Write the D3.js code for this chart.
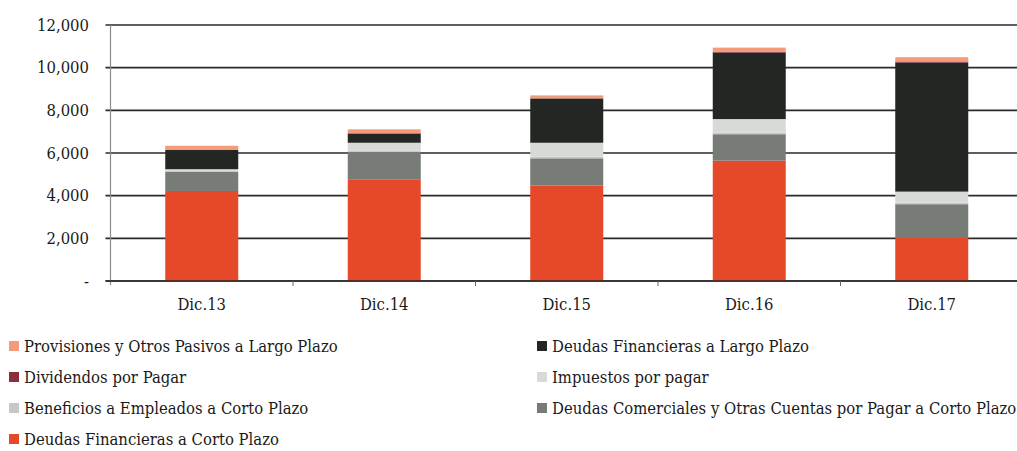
<!DOCTYPE html>
<html>
<head>
<meta charset="utf-8">
<script src="https://cdn.jsdelivr.net/npm/d3@7"></script>
<style>
  body { margin: 0; background: #fff; }
  svg text { font-family: "DejaVu Serif Condensed", "DejaVu Serif", serif; fill: #1a1a1a; }
</style>
</head>
<body>
<svg id="chart" width="1017" height="451"></svg>
<script>
// categories and series (stacked bottom -> top)
const categories = ["Dic.13", "Dic.14", "Dic.15", "Dic.16", "Dic.17"];
const deudasFinCP = [4220, 4770, 4470, 5640, 2020];
const deudasComerciales = [900, 1290, 1280, 1240, 1580];
const beneficios = [40, 60, 80, 80, 70];
const impuestos = [80, 360, 650, 630, 520];
const deudasFinLP = [900, 440, 2080, 3120, 6050];
const dividendos = [0, 0, 0, 40, 50];
const provisiones = [200, 190, 140, 190, 200];
const yTicks = [0, 2000, 4000, 6000, 8000, 10000, 12000];

const series = [
  { name: "Deudas Financieras a Corto Plazo", values: deudasFinCP, color: "#e6482a" },
  { name: "Deudas Comerciales y Otras Cuentas por Pagar a Corto Plazo", values: deudasComerciales, color: "#777c77" },
  { name: "Beneficios a Empleados a Corto Plazo", values: beneficios, color: "#c6c8c6" },
  { name: "Impuestos por pagar", values: impuestos, color: "#d8dad8" },
  { name: "Deudas Financieras a Largo Plazo", values: deudasFinLP, color: "#232623" },
  { name: "Dividendos por Pagar", values: dividendos, color: "#8a2f3e" },
  { name: "Provisiones y Otros Pasivos a Largo Plazo", values: provisiones, color: "#f29c7c" }
];

// legend order as printed (two columns, row by row)
const legendOrder = [
  "Provisiones y Otros Pasivos a Largo Plazo",
  "Deudas Financieras a Largo Plazo",
  "Dividendos por Pagar",
  "Impuestos por pagar",
  "Beneficios a Empleados a Corto Plazo",
  "Deudas Comerciales y Otras Cuentas por Pagar a Corto Plazo",
  "Deudas Financieras a Corto Plazo"
];

const svg = d3.select("#chart");
const plotLeft = 110.5, plotRight = 1023, plotTop = 25, plotBottom = 281;
const fontSize = 16.5;

const x = d3.scaleBand().domain(categories).range([plotLeft, plotRight]).paddingInner(0.6).paddingOuter(0.3);
const y = d3.scaleLinear().domain([0, 12000]).range([plotBottom, plotTop]);

// gridlines
svg.append("g")
  .selectAll("line")
  .data(yTicks)
  .join("line")
  .attr("x1", plotLeft - 5)
  .attr("x2", 1017)
  .attr("y1", d => y(d))
  .attr("y2", d => y(d))
  .attr("stroke", "#2a2a2a")
  .attr("stroke-width", 1.6);

// y axis labels
svg.append("g")
  .selectAll("text")
  .data(yTicks)
  .join("text")
  .attr("x", 89)
  .attr("y", d => y(d))
  .attr("dy", "0.35em")
  .attr("text-anchor", "end")
  .attr("font-size", fontSize)
  .text(d => d === 0 ? "-" : d3.format(",")(d));

// y axis line
svg.append("line")
  .attr("x1", plotLeft).attr("x2", plotLeft)
  .attr("y1", plotTop).attr("y2", plotBottom + 4)
  .attr("stroke", "#8a8a8a").attr("stroke-width", 1.2);

// stack
const table = categories.map((c, i) => {
  const row = { cat: c };
  series.forEach(s => row[s.name] = s.values[i]);
  return row;
});
const stacked = d3.stack().keys(series.map(s => s.name))(table);

svg.append("g")
  .selectAll("g")
  .data(stacked)
  .join("g")
  .attr("fill", (d, i) => series[i].color)
  .selectAll("rect")
  .data(d => d)
  .join("rect")
  .attr("x", d => x(d.data.cat))
  .attr("width", x.bandwidth())
  .attr("y", d => y(d[1]))
  .attr("height", d => y(d[0]) - y(d[1]));

// x axis line and ticks between categories
svg.append("line")
  .attr("x1", plotLeft - 5).attr("x2", 1017)
  .attr("y1", plotBottom).attr("y2", plotBottom)
  .attr("stroke", "#2a2a2a").attr("stroke-width", 1.6);

const step = x.step();
svg.append("g")
  .selectAll("line")
  .data(categories.slice(1))
  .join("line")
  .attr("x1", d => x(d) - step * 0.3)
  .attr("x2", d => x(d) - step * 0.3)
  .attr("y1", plotBottom)
  .attr("y2", plotBottom + 5)
  .attr("stroke", "#666");

svg.append("g")
  .selectAll("text")
  .data(categories)
  .join("text")
  .attr("x", d => x(d) + x.bandwidth() / 2)
  .attr("y", 304)
  .attr("dy", "0.35em")
  .attr("text-anchor", "middle")
  .attr("font-size", fontSize)
  .text(d => d);

// legend
const legendItems = legendOrder.map(n => series.find(s => s.name === n));
const legend = svg.append("g")
  .selectAll("g")
  .data(legendItems)
  .join("g")
  .attr("transform", (d, i) => `translate(${i % 2 === 0 ? 9 : 537},${346 + Math.floor(i / 2) * 31})`);

legend.append("rect")
  .attr("x", 0).attr("y", -5)
  .attr("width", 10).attr("height", 10)
  .attr("fill", d => d.color);

legend.append("text")
  .attr("x", 15)
  .attr("dy", "0.35em")
  .attr("font-size", fontSize)
  .text(d => d.name);
</script>
</body>
</html>
